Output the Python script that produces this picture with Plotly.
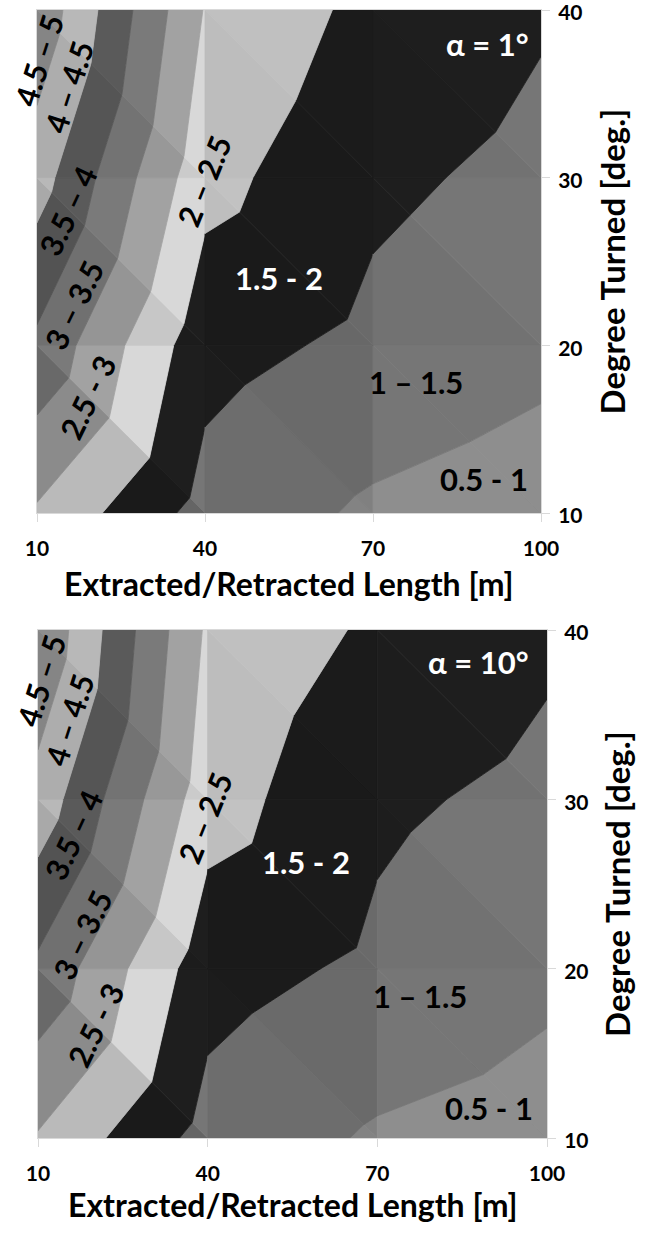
import plotly.graph_objects as go

# ---------------- data ----------------
x_length = [10, 40, 70, 100]          # Extracted/Retracted Length [m]
y_degree = [10, 20, 30, 40]           # Degree Turned [deg.]

# surface values, rows = y_degree, cols = x_length
z_alpha1 = [
    [2.44, 1.31, 0.92, 0.72],
    [3.40, 1.68, 1.38, 1.15],
    [4.22, 2.16, 1.60, 1.37],
    [4.87, 2.47, 1.85, 1.55],
]
z_alpha10 = [
    [2.46, 1.31, 0.94, 0.76],
    [3.40, 1.70, 1.40, 1.13],
    [4.31, 2.21, 1.59, 1.37],
    [4.96, 2.42, 1.91, 1.59],
]

band_edges = [0.5, 1.0, 1.5, 2.0, 2.5, 3.0, 3.5, 4.0, 4.5, 5.0]
band_names = ["0.5 - 1", "1 – 1.5", "1.5 - 2", "2 – 2.5", "2.5 - 3",
              "3 – 3.5", "3.5 – 4", "4 – 4.5", "4.5 – 5"]
x_ticks = [10, 40, 70, 100]
y_ticks = [10, 20, 30, 40]
panel_titles = ["α = 1°", "α = 10°"]

# ---------------- styles ----------------
band_gray = [142, 118, 30, 216, 162, 122, 90, 184, 142]
# facet shading factors [row][col] for (lower-left, upper-right) triangles
shade = [
    [(0.86, 1.0), (0.92, 0.90), (1.0, 1.0)],
    [(0.92, 1.0), (0.88, 0.90), (0.97, 1.0)],
    [(0.94, 1.0), (0.875, 0.89), (0.97, 1.0)],
]
FONT = "Lato"

# label placement per panel: (x, y, angle, color)
label_pos = [
    {
        "4.5 – 5": (10.4, 37.0, -72, "black"),
        "4 – 4.5": (15.7, 35.4, -72, "black"),
        "3.5 – 4": (15.5, 28.0, -65, "black"),
        "3 – 3.5": (16.6, 22.4, -64, "black"),
        "2.5 - 3": (19.1, 16.9, -64, "black"),
        "2 – 2.5": (39.8, 29.8, -68, "black"),
        "1.5 - 2": (53.2, 24.0, 0, "white"),
        "1 – 1.5": (77.7, 17.8, 0, "black"),
        "0.5 - 1": (89.8, 12.0, 0, "black"),
    },
    {
        "4.5 – 5": (10.5, 37.0, -72, "black"),
        "4 – 4.5": (15.5, 34.7, -72, "black"),
        "3.5 – 4": (16.2, 27.9, -65, "black"),
        "3 – 3.5": (17.8, 22.0, -64, "black"),
        "2.5 - 3": (20.1, 16.7, -64, "black"),
        "2 – 2.5": (39.5, 28.9, -68, "black"),
        "1.5 - 2": (57.4, 26.3, 0, "white"),
        "1 – 1.5": (77.5, 18.4, 0, "black"),
        "0.5 - 1": (89.7, 11.8, 0, "black"),
    },
]
title_pos = [(90.4, 38.0), (87.8, 38.1)]

W, H = 652, 1233


def px_x(p):
    return p / W


def px_y(p):
    return 1 - p / H


dom_x = [[px_x(37), px_x(541)], [px_x(38), px_x(547)]]
dom_y = [[px_y(513), px_y(10)], [px_y(1138), px_y(630)]]


def clip(poly, level, keep_above):
    out = []
    n = len(poly)
    for k in range(n):
        p, q = poly[k], poly[(k + 1) % n]
        pin = p[2] >= level if keep_above else p[2] <= level
        qin = q[2] >= level if keep_above else q[2] <= level
        if pin:
            out.append(p)
        if pin != qin:
            t = (level - p[2]) / (q[2] - p[2])
            out.append((p[0] + t * (q[0] - p[0]), p[1] + t * (q[1] - p[1]), level))
    return out


fig = go.Figure()
for panel, z in enumerate([z_alpha1, z_alpha10]):
    xa = "x" if panel == 0 else "x2"
    ya = "y" if panel == 0 else "y2"
    for j in range(len(y_degree) - 1):
        for i in range(len(x_length) - 1):
            p00 = (x_length[i], y_degree[j], z[j][i])
            p10 = (x_length[i + 1], y_degree[j], z[j][i + 1])
            p01 = (x_length[i], y_degree[j + 1], z[j + 1][i])
            p11 = (x_length[i + 1], y_degree[j + 1], z[j + 1][i + 1])
            tris = [[p00, p10, p01], [p10, p11, p01]]
            for t_idx, tri in enumerate(tris):
                f = shade[j][i][t_idx]
                for b in range(len(band_names)):
                    poly = clip(clip(tri, band_edges[b], True), band_edges[b + 1], False)
                    if len(poly) < 3:
                        continue
                    g = max(0, min(255, int(round(band_gray[b] * f))))
                    col = f"rgb({g},{g},{g})"
                    fig.add_trace(go.Scatter(
                        x=[p[0] for p in poly] + [poly[0][0]],
                        y=[p[1] for p in poly] + [poly[0][1]],
                        mode="lines", fill="toself", fillcolor=col,
                        line=dict(color=col, width=0.8),
                        hoverinfo="skip", showlegend=False,
                        xaxis=xa, yaxis=ya))

    # band labels
    for name in band_names:
        lx, ly, ang, c = label_pos[panel][name]
        fig.add_annotation(x=lx, y=ly, xref=xa, yref=ya, text=name,
                           showarrow=False, textangle=ang,
                           xanchor="center", yanchor="middle",
                           font=dict(family=FONT, size=31, color=c, weight="bold"))
    tx, ty = title_pos[panel]
    fig.add_annotation(x=tx, y=ty, xref=xa, yref=ya, text=panel_titles[panel],
                       showarrow=False, xanchor="center", yanchor="middle",
                       font=dict(family=FONT, size=31, color="white", weight="bold"))

axis_common = dict(showgrid=False, zeroline=False, showline=True, linecolor="#d9d9d9",
                   linewidth=1, mirror=True, ticks="outside", tickcolor="#d9d9d9",
                   automargin=False, ticklabeloverflow="allow",
                   tickfont=dict(family=FONT, size=21, color="black", weight="bold"))

for panel in range(2):
    sx = "" if panel == 0 else "2"
    fig.layout["xaxis" + sx] = dict(
        axis_common, domain=dom_x[panel], range=[10, 100], tickvals=x_ticks,
        ticklen=8, ticklabelstandoff=9, anchor="y" + sx)
    fig.layout["yaxis" + sx] = dict(
        axis_common, domain=dom_y[panel], range=[10, 40], tickvals=y_ticks,
        side="right", ticklen=8, ticklabelstandoff=4, ticklabelshift=3,
        anchor="x" + sx)
    # axis titles
    cx = (dom_x[panel][0] + dom_x[panel][1]) / 2
    fig.add_annotation(x=cx, y=px_y(584 if panel == 0 else 1204), xref="paper",
                       yref="paper", text="Extracted/Retracted Length [m]",
                       showarrow=False, xanchor="center", yanchor="middle",
                       font=dict(family=FONT, size=32, color="black", weight="bold"))
    fig.add_annotation(x=px_x(611 if panel == 0 else 617),
                       y=(dom_y[panel][0] + dom_y[panel][1]) / 2,
                       xref="paper", yref="paper", text="Degree Turned [deg.]",
                       showarrow=False, textangle=-90, xanchor="center", yanchor="middle",
                       font=dict(family=FONT, size=33, color="black", weight="bold"))

fig.update_layout(width=W, height=H, margin=dict(l=0, r=0, t=0, b=0, autoexpand=False),
                  paper_bgcolor="white", plot_bgcolor="white", showlegend=False)

# remove the browser's default 8px body margin so the figure fills the window exactly
fig.write_html("out.html",
               config={"staticPlot": True, "displayModeBar": False},
               post_script="document.body.style.margin='0';document.body.style.overflow='hidden';")
